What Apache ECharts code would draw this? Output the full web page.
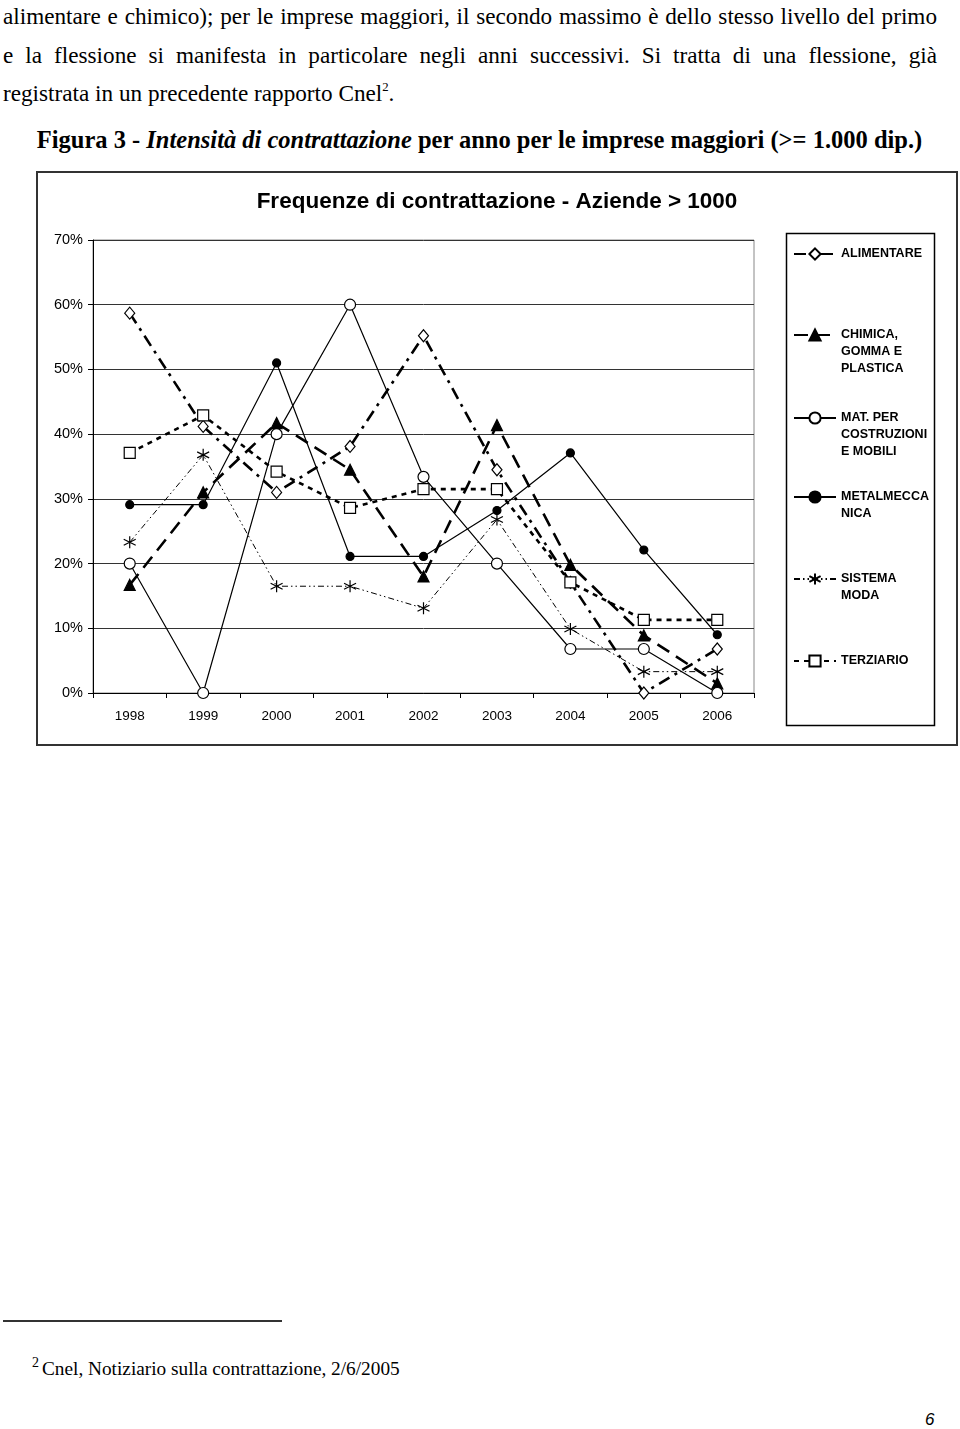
<!DOCTYPE html>
<html>
<head>
<meta charset="utf-8">
<script src="https://cdn.jsdelivr.net/npm/echarts@6/dist/echarts.min.js"></script>
<style>
  html, body { margin: 0; padding: 0; background: #fff; }
  body { width: 960px; height: 1429px; position: relative; overflow: hidden; }
  .serif { font-family: "Liberation Serif", "Times New Roman", serif; color: #000; position: absolute; white-space: nowrap; }
  .para { font-size: 23.2px; line-height: 24px; left: 3px; width: 934px; }
  .just { text-align: justify; text-align-last: justify; white-space: normal; }
  #frame { position: absolute; left: 36px; top: 171px; width: 918px; height: 571px; border: 2px solid #333; }
  #chart { position: absolute; left: 36px; top: 171px; width: 922px; height: 575px; }
  sup { font-size: 0.55em; vertical-align: 0; position: relative; top: -0.75em; }
</style>
</head>
<body>
<div class="serif para just" style="top:4px;">alimentare e chimico); per le imprese maggiori, il secondo massimo è dello stesso livello del primo</div>
<div class="serif para just" style="top:43px;">e la flessione si manifesta in particolare negli anni successivi. Si tratta di una flessione, già</div>
<div class="serif para" style="top:81px;">registrata in un precedente rapporto Cnel<sup>2</sup>.</div>
<div class="serif" style="top:128px; left:0; width:959px; text-align:center; font-size:24.5px; line-height:24px; font-weight:bold;">Figura 3 - <i>Intensità di contrattazione</i> per anno per le imprese maggiori (&gt;= 1.000 dip.)</div>

<div id="frame"></div>
<div id="chart"></div>

<div style="position:absolute; left:3px; top:1320px; width:279px; height:2px; background:#333;"></div>
<div class="serif" style="left:32px; top:1355px; font-size:14px;">2</div>
<div class="serif" style="left:42px; top:1358px; font-size:19.3px;">Cnel, Notiziario sulla contrattazione, 2/6/2005</div>
<div style="position:absolute; left:925px; top:1410px; font-family:'Liberation Sans',Arial,sans-serif; font-style:italic; font-size:17px;">6</div>

<script>
const years = ['1998','1999','2000','2001','2002','2003','2004','2005','2006'];
const yTicks = { min: 0, max: 70, interval: 10 };

const alimentare  = [58.7, 41.2, 31.0, 38.1, 55.2, 34.5, 17.1, 0.0, 6.8];
const chimica     = [16.7, 31.0, 41.7, 34.5, 18.0, 41.4, 19.8, 8.9, 1.5];
const matCostr    = [20.0, 0.0, 40.0, 60.0, 33.4, 20.0, 6.8, 6.8, 0.0];
const metalmecc   = [29.1, 29.1, 51.0, 21.1, 21.1, 28.2, 37.1, 22.1, 9.0];
const sistemaModa = [23.3, 36.8, 16.5, 16.5, 13.1, 26.8, 9.9, 3.3, 3.3];
const terziario   = [37.1, 42.9, 34.2, 28.6, 31.5, 31.5, 17.1, 11.3, 11.3];

const names = ['ALIMENTARE', 'CHIMICA, GOMMA E PLASTICA', 'MAT. PER COSTRUZIONI E MOBILI', 'METALMECCANICA', 'SISTEMA MODA', 'TERZIARIO'];
const legendLabels = ['ALIMENTARE', 'CHIMICA,\nGOMMA E\nPLASTICA', 'MAT. PER\nCOSTRUZIONI\nE MOBILI', 'METALMECCA\nNICA', 'SISTEMA\nMODA', 'TERZIARIO'];

const asterisk = 'path://M0,-10 L0,10 M-8.66,-5 L8.66,5 M-8.66,5 L8.66,-5';

const chart = echarts.init(document.getElementById('chart'), null, { renderer: 'canvas' });
const FONT = "'Liberation Sans', Arial, sans-serif";
const LH = 17;
const centers = [83, 164, 247, 326, 408, 490];

const legends = names.map((n, i) => {
  const lines = legendLabels[i].split('\n').length;
  const top = centers[i] - (2 * lines - 1) * LH / 2;
  const label = '\n'.repeat(lines - 1) + legendLabels[i];
  return {
    data: [n],
    left: 757,
    top: top,
    padding: 0,
    orient: 'vertical',
    itemWidth: 42,
    itemHeight: 14,
    selectedMode: false,
    formatter: () => label,
    textStyle: {
      fontFamily: FONT, fontSize: 12.5, fontWeight: 'bold', color: '#000',
      lineHeight: LH
    }
  };
});

function mk(name, data, sym, size, fill, lw, dash) {
  return {
    name: name, type: 'line', data: data,
    symbol: sym, symbolSize: size, showSymbol: true,
    animation: false,
    lineStyle: { color: '#000', width: lw, type: dash },
    itemStyle: { color: fill, borderColor: '#000', borderWidth: 1.2 },
    emphasis: { disabled: true }
  };
}

chart.setOption({
  animation: false,
  title: {
    text: 'Frequenze di contrattazione - Aziende > 1000',
    left: 'center', top: 19, padding: 0,
    textStyle: { fontFamily: FONT, fontSize: 22.5, fontWeight: 'bold', color: '#000' }
  },
  graphic: [{
    type: 'rect', left: 748, top: 60,
    shape: { width: 148, height: 492 },
    style: { fill: 'none', stroke: '#000', lineWidth: 1.5 }
  }],
  legend: legends,
  grid: { left: 57, right: 204, top: 69, bottom: 53, show: true, borderColor: '#888', borderWidth: 1 },
  xAxis: {
    type: 'category', data: years, boundaryGap: true,
    axisLine: { lineStyle: { color: '#000', width: 1 } },
    axisTick: { show: true, length: 5, inside: false, lineStyle: { color: '#000' } },
    axisLabel: { fontFamily: FONT, fontSize: 13.5, color: '#000', margin: 16 },
    splitLine: { show: false }
  },
  yAxis: {
    type: 'value', min: yTicks.min, max: yTicks.max, interval: yTicks.interval,
    axisLine: { show: true, lineStyle: { color: '#000', width: 1 } },
    axisTick: { show: true, length: 5, inside: false, lineStyle: { color: '#000' } },
    axisLabel: { fontFamily: FONT, fontSize: 14.5, color: '#000', margin: 10, formatter: '{value}%' },
    splitLine: { show: true, lineStyle: { color: '#333', width: 1 } }
  },
  series: [
    mk(names[0], alimentare, 'diamond', [10, 12], '#fff', 2.6, [12, 6, 3, 6]),
    mk(names[1], chimica, 'triangle', 11, '#000', 2.6, [14, 8]),
    mk(names[2], matCostr, 'circle', 11, '#fff', 1.2, 'solid'),
    mk(names[3], metalmecc, 'circle', 8, '#000', 1.2, 'solid'),
    Object.assign(mk(names[4], sistemaModa, asterisk, 12, 'none', 1, [6, 3, 1.5, 3, 1.5, 3]), { itemStyle: { color: 'none', borderColor: '#000', borderWidth: 1.2 } }),
    mk(names[5], terziario, 'rect', 11, '#fff', 2.6, [5, 5])
  ]
});
</script>
</body>
</html>
